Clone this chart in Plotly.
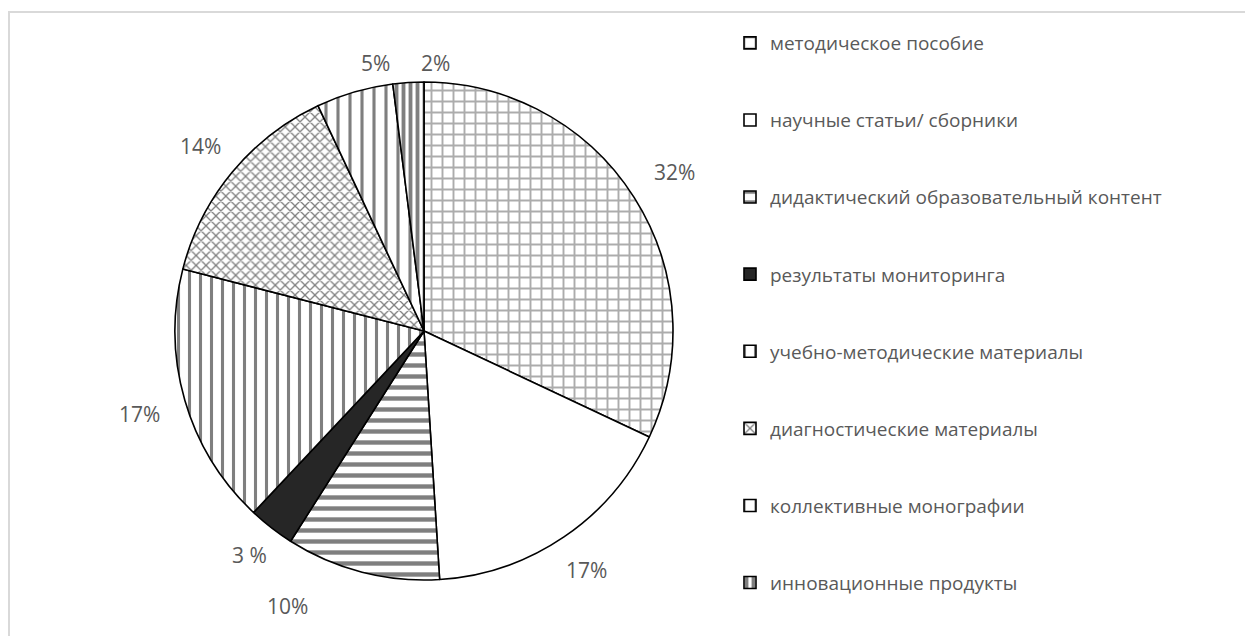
import math
import plotly.graph_objects as go

categories = [
    "методическое пособие",
    "научные статьи/ сборники",
    "дидактический образовательный контент",
    "результаты мониторинга",
    "учебно-методические материалы",
    "диагностические материалы",
    "коллективные монографии",
    "инновационные продукты",
]
values = [32, 17, 10, 3, 17, 14, 5, 2]
pct_labels = ["32%", "17%", "10%", "3 %", "17%", "14%", "5%", "2%"]

# styles
fill_colors = ["white", "white", "white", "#262626", "white", "white", "white", "white"]
pattern_shapes = ["+", "", "-", "", "|", "x", "|", "|"]
pattern_fg = ["#5a5a5a", "black", "black", "black", "black", "black", "black", "black"]
pattern_size = [11, 8, 11, 8, 11, 7, 12, 7]
pattern_solidity = [0.32, 0.3, 0.4, 0.3, 0.28, 0.34, 0.26, 0.55]
# label placement tweaks (degrees of rotation, pixels beyond the rim)
label_turn = [0, 0, 12, 0, 0, 0, 6, 6]
label_gap = [48, 40, 58, 35, 47, 41, 23, 19]

# page body has an 8px margin; figure is shrunk so it fits the window
OFF = 8
W, H = 1253 - 2 * OFF, 644 - 2 * OFF
cx, cy, R = 424 - OFF, 331 - OFF, 249  # pie centre and radius in figure pixels
dom_x = [(cx - R) / W, (cx + R) / W]
dom_y = [1 - (cy + R) / H, 1 - (cy - R) / H]

# extra blank lines widen the vertical spacing of legend entries
legend_names = [c + "<br> <br> " for c in categories[:-1]] + [categories[-1]]

fig = go.Figure(
    go.Pie(
        labels=legend_names,
        values=values,
        sort=False,
        direction="clockwise",
        rotation=0,
        textinfo="none",
        customdata=categories,
        hovertemplate="%{customdata}: %{value}%<extra></extra>",
        marker=dict(
            colors=fill_colors,
            line=dict(color="black", width=1.6),
            pattern=dict(
                shape=pattern_shapes,
                fgcolor=pattern_fg,
                bgcolor=fill_colors,
                size=pattern_size,
                solidity=pattern_solidity,
                fillmode="overlay",
            ),
        ),
        domain=dict(x=dom_x, y=dom_y),
    )
)

# percentage labels placed outside the slices, derived from the values
total = sum(values)
cum = 0
annotations = []
for v, t, turn, gap in zip(values, pct_labels, label_turn, label_gap):
    mid = (cum + v / 2) / total
    cum += v
    th = 2 * math.pi * mid + math.radians(turn)
    d = R + gap
    px = cx + d * math.sin(th)
    py = cy - d * math.cos(th)
    annotations.append(
        dict(
            x=px / W, y=1 - py / H, xref="paper", yref="paper",
            text=t, showarrow=False,
            font=dict(family="Open Sans", size=21, color="#595959"),
            xanchor="center", yanchor="middle",
        )
    )

fig.update_layout(
    width=W,
    height=H,
    margin=dict(l=0, r=0, t=0, b=0),
    paper_bgcolor="white",
    plot_bgcolor="white",
    annotations=annotations,
    legend=dict(
        x=(730 - OFF) / W, y=1 - (24 - OFF) / H, xanchor="left", yanchor="top",
        valign="top",
        font=dict(family="Open Sans", size=19, color="#595959"),
        bgcolor="rgba(0,0,0,0)",
    ),
    shapes=[
        dict(
            type="rect", xref="paper", yref="paper",
            x0=(9 - OFF) / W, y0=-0.05, x1=1.05, y1=1 - (12 - OFF) / H,
            line=dict(color="#d9d9d9", width=2),
            fillcolor="rgba(0,0,0,0)",
        )
    ],
)

fig.write_html("out.html")
